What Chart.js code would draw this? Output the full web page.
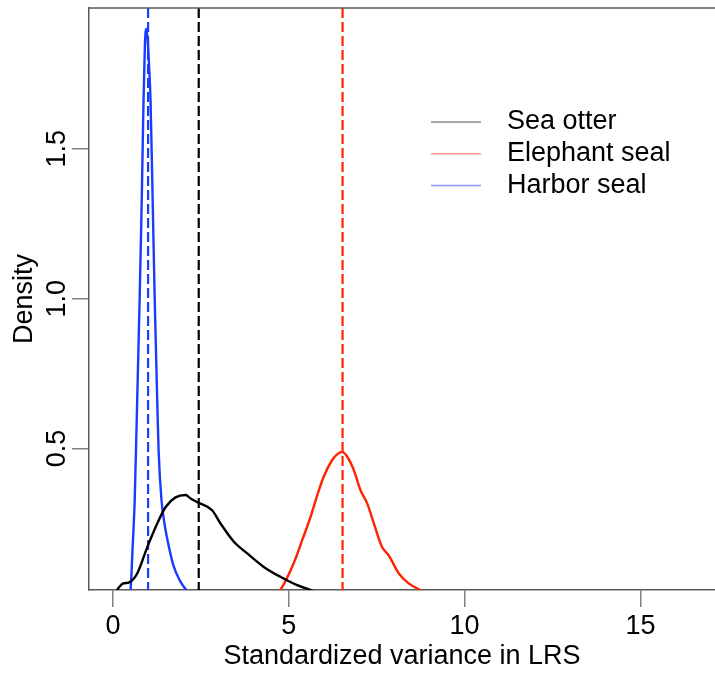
<!DOCTYPE html>
<html lang="en">
<head>
<meta charset="UTF-8">
<title>Standardized variance in LRS</title>
<style>
  body { margin: 0; background: #fff; }
  canvas { display: block; }
</style>
</head>
<body>
<canvas id="densityChart" width="715" height="673"></canvas>
<script src="https://cdn.jsdelivr.net/npm/chart.js"></script>
<script>
  // species, line colours and group means (the dashed lines)
  const species = ["Sea otter", "Elephant seal", "Harbor seal"];
  const colors = ["#000000", "#ff2200", "#1a3cff"];
  const legendColors = ["#8a8a8a", "#ff9488", "#8898ff"];
  const means = [2.44, 6.53, 1.0];

  // density curves
  const otterX = [0.0, 0.12, 0.3, 0.45, 0.69, 0.98, 1.26, 1.5, 1.78, 2.07, 2.21, 2.44, 2.82, 3.06, 3.44, 3.82, 4.29, 4.76, 5.24, 5.62, 6.0, 6.4];
  const otterY = [0.0, 0.028, 0.05, 0.053, 0.083, 0.172, 0.25, 0.305, 0.337, 0.345, 0.333, 0.319, 0.294, 0.25, 0.189, 0.15, 0.105, 0.072, 0.044, 0.028, 0.014, 0.004];

  const elephantX = [4.5, 4.76, 5.14, 5.4, 5.62, 5.8, 5.99, 6.23, 6.4, 6.52, 6.65, 6.85, 7.04, 7.23, 7.42, 7.65, 7.84, 8.13, 8.41, 8.74, 9.0];
  const elephantY = [0.0, 0.028, 0.117, 0.2, 0.272, 0.34, 0.405, 0.461, 0.483, 0.489, 0.475, 0.428, 0.361, 0.317, 0.25, 0.172, 0.144, 0.083, 0.05, 0.028, 0.012];

  const harborX = [0.4, 0.5, 0.56, 0.62, 0.69, 0.76, 0.82, 0.87, 0.91, 0.95, 0.99, 1.04, 1.07, 1.13, 1.19, 1.26, 1.3, 1.38, 1.48, 1.56, 1.72, 1.9, 2.09, 2.3];
  const harborY = [0.0, 0.028, 0.17, 0.33, 0.66, 1.0, 1.33, 1.66, 1.85, 1.9, 1.86, 1.75, 1.66, 1.33, 0.99, 0.66, 0.49, 0.33, 0.24, 0.19, 0.11, 0.06, 0.028, 0.008];

  // axes
  const xTicks = [0, 5, 10, 15];
  const yTicks = [0.5, 1.0, 1.5];
  const yTickLabels = ["0.5", "1.0", "1.5"];
  const xRange = [-0.68, 17.12];
  const yRange = [0.028, 1.97];

  const FONT = "'Liberation Sans', Arial, sans-serif";
  const FONT_SIZE = 27;
  const AXIS_GREY = "#5a5a5a";

  const toPoints = (xs, ys) => xs.map((x, i) => ({ x: x, y: ys[i] }));
  const curves = [toPoints(otterX, otterY), toPoints(elephantX, elephantY), toPoints(harborX, harborY)];

  const datasets = [];
  species.forEach((name, i) => {
    datasets.push({
      label: name,
      data: curves[i],
      borderColor: colors[i],
      borderWidth: 2.4,
      pointRadius: 0,
      cubicInterpolationMode: "monotone"
    });
  });
  species.forEach((name, i) => {
    datasets.push({
      label: name + " mean",
      data: [{ x: means[i], y: yRange[1] }, { x: means[i], y: yRange[0] }],
      borderColor: colors[i],
      borderWidth: 2.2,
      borderDash: [10, 4],
      pointRadius: 0
    });
  });

  // top edge of the box, rotated y tick labels and the legend
  const extras = {
    id: "extras",
    afterDraw(chart) {
      const ctx = chart.ctx;
      const area = chart.chartArea;
      const yScale = chart.scales.y;
      ctx.save();
      ctx.strokeStyle = AXIS_GREY;
      ctx.lineWidth = 1.5;
      ctx.beginPath();
      ctx.moveTo(area.left, area.top);
      ctx.lineTo(area.right, area.top);
      ctx.stroke();

      ctx.fillStyle = "#000";
      ctx.font = FONT_SIZE + "px " + FONT;
      ctx.textAlign = "center";
      ctx.textBaseline = "alphabetic";
      yTicks.forEach((v, i) => {
        ctx.save();
        ctx.translate(area.left - 24, yScale.getPixelForValue(v));
        ctx.rotate(-Math.PI / 2);
        ctx.fillText(yTickLabels[i], 0, 0);
        ctx.restore();
      });

      const lx = 431, ly = 122, rowGap = 31.7;
      ctx.textAlign = "left";
      ctx.textBaseline = "middle";
      species.forEach((name, i) => {
        const y = ly + i * rowGap;
        ctx.strokeStyle = legendColors[i];
        ctx.lineWidth = 1.5;
        ctx.beginPath();
        ctx.moveTo(lx, y);
        ctx.lineTo(lx + 50, y);
        ctx.stroke();
        ctx.fillText(name, lx + 76, y);
      });
      ctx.restore();
    }
  };

  new Chart(document.getElementById("densityChart"), {
    type: "line",
    data: { datasets: datasets },
    options: {
      responsive: false,
      animation: false,
      layout: { padding: { top: 8, right: 0, left: 0, bottom: 0 } },
      plugins: { legend: { display: false }, tooltip: { enabled: false } },
      scales: {
        x: {
          type: "linear",
          min: xRange[0],
          max: xRange[1],
          afterBuildTicks: s => { s.ticks = xTicks.map(v => ({ value: v })); },
          afterFit: s => { s.height = 83; },
          grid: { drawOnChartArea: false, drawTicks: true, tickLength: 17, color: "#808080", lineWidth: 1.5 },
          border: { display: true, color: AXIS_GREY, width: 1.5 },
          ticks: { color: "#000", padding: 3, maxRotation: 0, font: { family: FONT, size: FONT_SIZE } },
          title: { display: true, text: "Standardized variance in LRS", color: "#000", padding: 0, font: { family: FONT, size: FONT_SIZE } }
        },
        y: {
          min: yRange[0],
          max: yRange[1],
          afterBuildTicks: s => { s.ticks = yTicks.map(v => ({ value: v })); },
          afterFit: s => { s.width = 89; },
          grid: { drawOnChartArea: false, drawTicks: true, tickLength: 17, color: "#808080", lineWidth: 1.5 },
          border: { display: true, color: AXIS_GREY, width: 1.5 },
          ticks: { display: false },
          title: { display: true, text: "Density", color: "#000", padding: { top: 8 }, font: { family: FONT, size: FONT_SIZE } }
        }
      }
    },
    plugins: [extras]
  });
</script>
</body>
</html>
